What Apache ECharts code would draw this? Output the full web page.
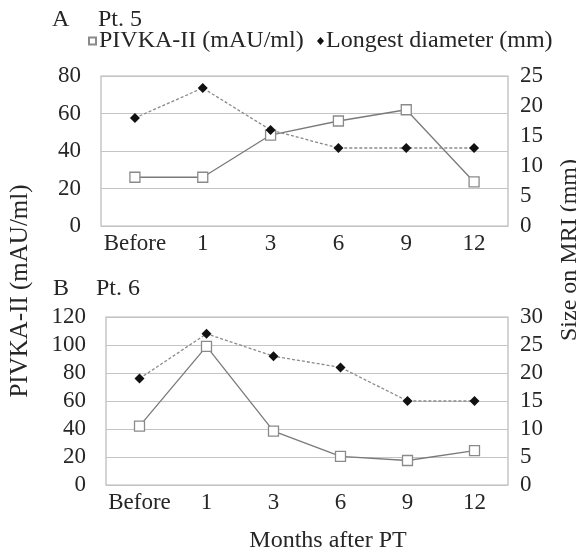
<!DOCTYPE html>
<html>
<head>
<meta charset="utf-8">
<script src="https://cdn.jsdelivr.net/npm/echarts@6/dist/echarts.min.js"></script>
<style>
  html, body { margin: 0; padding: 0; background: #fff; }
  #chart { width: 576px; height: 556px; }
</style>
</head>
<body>
<div id="chart"></div>
<script>
// months after PT
var months = ["Before", "1", "3", "6", "9", "12"];
// Pt. 5
var pivkaA = [26, 26, 48.5, 56, 62, 23.5];
var diamA = [18, 23, 16, 13, 13, 13];
// Pt. 6
var pivkaB = [42, 99, 38.5, 20.5, 17.5, 24.5];
var diamB = [19, 27, 23, 21, 15, 15];

var FONT = "Liberation Serif";
var TXT = "#262626";
var GRIDLINE = "#c4c4c4";

var chart = echarts.init(document.getElementById("chart"));

function catAxis(idx) {
  return {
    type: "category",
    gridIndex: idx,
    data: months,
    boundaryGap: true,
    axisTick: { show: false },
    axisLine: { show: false },
    axisLabel: { color: TXT, fontFamily: FONT, fontSize: 23, margin: 6, interval: 0 },
  };
}
function valAxis(idx, pos, max, interval, margin) {
  return {
    type: "value",
    gridIndex: idx,
    position: pos,
    min: 0,
    max: max,
    interval: interval,
    axisLine: { show: false },
    axisTick: { show: false },
    axisLabel: { color: TXT, fontFamily: FONT, fontSize: 23, margin: margin },
    splitLine: { show: pos === "left", lineStyle: { color: GRIDLINE, width: 1.2 } },
  };
}

//空心方块 PIVKA-II
function pivkaSeries(xi, yi, data) {
  return {
    name: "PIVKA-II (mAU/ml)",
    type: "line",
    xAxisIndex: xi,
    yAxisIndex: yi,
    data: data,
    symbol: "rect",
    symbolSize: 10,
    lineStyle: { color: "#7a7a7a", width: 1.3 },
    itemStyle: { color: "#fff", borderColor: "#8a8a8a", borderWidth: 1.3 },
    z: 3,
  };
}
//实心菱形 最长直径
function diamSeries(xi, yi, data) {
  return {
    name: "Longest diameter (mm)",
    type: "line",
    xAxisIndex: xi,
    yAxisIndex: yi,
    data: data,
    symbol: "diamond",
    symbolSize: 10,
    lineStyle: { color: "#8a8a8a", width: 1.3, type: [3, 2] },
    itemStyle: { color: "#111" },
    z: 4,
  };
}

var option = {
  animation: false,
  backgroundColor: "#fff",
  textStyle: { fontFamily: FONT },
  legend: [
    {
      left: 88, top: 29, padding: 0,
      data: [{ name: "PIVKA-II (mAU/ml)", icon: "rect" }],
      itemWidth: 7, itemHeight: 7,
      textStyle: { color: TXT, fontFamily: FONT, fontSize: 24, padding: [0, 0, 0, -2] },
    },
    {
      left: 317, top: 29, padding: 0,
      data: [{ name: "Longest diameter (mm)", icon: "diamond" }],
      itemWidth: 7, itemHeight: 8,
      textStyle: { color: TXT, fontFamily: FONT, fontSize: 24, padding: [0, 0, 0, -3] },
    },
  ],
  grid: [
    { left: 101, top: 76, width: 407, height: 150, show: true, borderColor: "#b8b8b8", borderWidth: 1.2 },
    { left: 106, top: 317, width: 402, height: 168, show: true, borderColor: "#b8b8b8", borderWidth: 1.2 },
  ],
  xAxis: [catAxis(0), catAxis(1)],
  yAxis: [
    valAxis(0, "left", 80, 20, 20),
    valAxis(0, "right", 25, 5, 12),
    valAxis(1, "left", 120, 20, 20),
    valAxis(1, "right", 30, 5, 12),
  ],
  series: [
    pivkaSeries(0, 0, pivkaA),
    diamSeries(0, 1, diamA),
    pivkaSeries(1, 2, pivkaB),
    diamSeries(1, 3, diamB),
  ],
  graphic: [
    { type: "text", x: 52, y: 20, style: { text: "A", font: "24px " + FONT, fill: TXT, verticalAlign: "middle" } },
    { type: "text", x: 98, y: 20, style: { text: "Pt. 5", font: "24px " + FONT, fill: TXT, verticalAlign: "middle" } },
    { type: "text", x: 53, y: 289, style: { text: "B", font: "24px " + FONT, fill: TXT, verticalAlign: "middle" } },
    { type: "text", x: 96, y: 289, style: { text: "Pt. 6", font: "24px " + FONT, fill: TXT, verticalAlign: "middle" } },
    {
      type: "text", x: 20, y: 291, rotation: Math.PI / 2,
      style: { text: "PIVKA-II (mAU/ml)", font: "25px " + FONT, fill: TXT, align: "center", verticalAlign: "middle" },
    },
    {
      type: "text", x: 570, y: 250, rotation: Math.PI / 2,
      style: { text: "Size on MRI (mm)", font: "24px " + FONT, fill: TXT, align: "center", verticalAlign: "middle" },
    },
    {
      type: "text", x: 328, y: 541,
      style: { text: "Months after PT", font: "24px " + FONT, fill: TXT, align: "center", verticalAlign: "middle" },
    },
  ],
};
chart.setOption(option);
</script>
</body>
</html>
